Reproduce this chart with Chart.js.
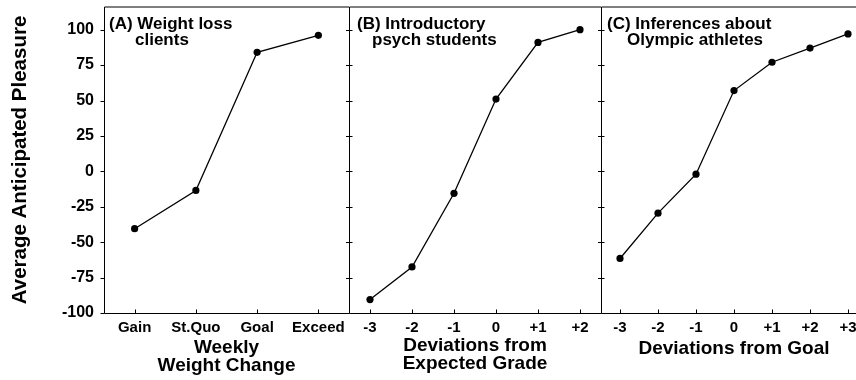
<!DOCTYPE html>
<html>
<head>
<meta charset="utf-8">
<script src="https://cdn.jsdelivr.net/npm/chart.js@4.4.0/dist/chart.umd.min.js"></script>
<style>
html, body { margin: 0; padding: 0; background: #fff; overflow: hidden; width: 856px; height: 380px; }
.panel { position: absolute; top: 0; height: 380px; }
</style>
</head>
<body>
<div class="panel" style="left:0;width:349px"><canvas id="chart-a"></canvas></div>
<div class="panel" style="left:349px;width:252px"><canvas id="chart-b"></canvas></div>
<div class="panel" style="left:601px;width:266px"><canvas id="chart-c"></canvas></div>
<script>
// values
const y_ticks = [-100, -75, -50, -25, 0, 25, 50, 75, 100];

const labels_a = ['Gain', 'St.Quo', 'Goal', 'Exceed'];
const values_a = [-40.5, -13.5, 84, 96];
const title_a = ['(A) Weight loss', 'clients'];
const xtitle_a = ['Weekly', 'Weight Change'];

const labels_b = ['-3', '-2', '-1', '0', '+1', '+2'];
const values_b = [-90.5, -67.5, -15.5, 51, 91, 100];
const title_b = ['(B) Introductory', 'psych students'];
const xtitle_b = ['Deviations from', 'Expected Grade'];

const labels_c = ['-3', '-2', '-1', '0', '+1', '+2', '+3'];
const values_c = [-61.5, -29.5, -2, 57, 77, 87, 97];
const title_c = ['(C) Inferences about', 'Olympic athletes'];
const xtitle_c = ['Deviations from Goal'];

const FONT = "'Liberation Sans', Arial, Helvetica, sans-serif";

// box, inside ticks and the panel caption
const frame_plugin = {
    id: 'frame',
    afterDraw(chart, args, opts) {
        const ctx = chart.ctx;
        const area = chart.chartArea;
        const x_scale = chart.scales.x;
        const y_scale = chart.scales.y;
        const left = Math.round(area.left) + 0.5;
        const bottom = Math.round(area.bottom) + 0.5;
        const top = Math.round(area.top);
        ctx.save();
        ctx.strokeStyle = '#000';
        ctx.lineWidth = 1;
        ctx.beginPath();
        ctx.moveTo(left, bottom);
        ctx.lineTo(left, top);
        ctx.lineTo(area.right, top);
        ctx.moveTo(left, bottom);
        ctx.lineTo(area.right, bottom);
        // x ticks pointing up
        x_scale.ticks.forEach((t, i) => {
            const px = Math.round(x_scale.getPixelForTick(i)) + 0.5;
            ctx.moveTo(px, bottom);
            ctx.lineTo(px, bottom - 4);
        });
        // y ticks on the frame
        y_ticks.forEach(v => {
            const py = Math.round(y_scale.getPixelForValue(v)) + 0.5;
            if (opts.outside_ticks) {
                ctx.moveTo(left, py);
                ctx.lineTo(left - 4, py);
            }
            if (opts.left_ticks) {
                ctx.moveTo(left, py);
                ctx.lineTo(left + 3, py);
            }
            if (opts.right_ticks) {
                ctx.moveTo(area.right, py);
                ctx.lineTo(area.right - 3, py);
            }
        });
        ctx.stroke();

        ctx.fillStyle = '#000';
        ctx.font = 'bold 17px ' + FONT;
        ctx.textBaseline = 'alphabetic';
        ctx.textAlign = 'left';
        opts.caption.forEach((line, i) => {
            ctx.fillText(line, area.left + opts.caption_x[i], opts.caption_y[i]);
        });
        ctx.restore();
    }
};

function make_panel(canvas_id, labels, values, x_title, options) {
    return new Chart(document.getElementById(canvas_id), {
        type: 'line',
        data: {
            labels: labels,
            datasets: [{
                data: values,
                borderColor: '#000',
                borderWidth: 1.3,
                pointRadius: 3.6,
                pointBackgroundColor: '#000',
                pointBorderColor: '#000',
                pointBorderWidth: 0,
                tension: 0,
                fill: false
            }]
        },
        options: {
            responsive: true,
            maintainAspectRatio: false,
            animation: false,
            events: [],
            layout: {
                autoPadding: false,
                padding: { top: 7, right: 0, bottom: 0, left: 0 }
            },
            plugins: {
                legend: { display: false },
                tooltip: { enabled: false },
                frame: options.frame
            },
            scales: {
                x: {
                    type: 'category',
                    offset: true,
                    grid: { display: false, drawTicks: false },
                    border: { display: false },
                    ticks: {
                        color: '#000',
                        padding: 6,
                        maxRotation: 0,
                        autoSkip: false,
                        font: { family: FONT, size: 15, weight: 'bold' }
                    },
                    title: {
                        display: true,
                        text: x_title,
                        color: '#000',
                        font: { family: FONT, size: 19, weight: 'bold', lineHeight: 0.95 },
                        padding: { top: 0, bottom: options.x_title_pad }
                    },
                    afterFit(scale) {
                        scale.height = 67;
                        scale.paddingLeft = 0;
                        scale.paddingRight = 0;
                    }
                },
                y: {
                    display: options.show_y,
                    min: -100,
                    max: 116,
                    afterBuildTicks(scale) {
                        scale.ticks = y_ticks.map(v => ({ value: v }));
                    },
                    afterFit(scale) {
                        if (options.show_y) scale.width = 104;
                        scale.paddingTop = 0;
                        scale.paddingBottom = 0;
                    },
                    grid: {
                        drawOnChartArea: false,
                        drawTicks: true,
                        tickLength: 4,
                        color: 'rgba(0,0,0,0)'
                    },
                    border: { display: false },
                    ticks: {
                        color: '#000',
                        padding: 6,
                        font: { family: FONT, size: 16, weight: 'bold' }
                    },
                    title: {
                        display: options.show_y,
                        text: 'Average Anticipated Pleasure',
                        color: '#000',
                        font: { family: FONT, size: 20.5, weight: 'bold', lineHeight: 1 },
                        padding: { top: 10, bottom: 0 }
                    }
                }
            }
        },
        plugins: [frame_plugin]
    });
}

make_panel('chart-a', labels_a, values_a, xtitle_a, {
    show_y: true,
    x_title_pad: 5,
    frame: { outside_ticks: true, left_ticks: false, right_ticks: true, caption: title_a, caption_x: [5, 31], caption_y: [29, 45] }
});
make_panel('chart-b', labels_b, values_b, xtitle_b, {
    show_y: false,
    x_title_pad: 7,
    frame: { outside_ticks: false, left_ticks: true, right_ticks: true, caption: title_b, caption_x: [8, 23], caption_y: [29, 45] }
});
make_panel('chart-c', labels_c, values_c, xtitle_c, {
    show_y: false,
    x_title_pad: 22,
    frame: { outside_ticks: false, left_ticks: true, right_ticks: false, caption: title_c, caption_x: [6, 26], caption_y: [29, 45] }
});
</script>
</body>
</html>
